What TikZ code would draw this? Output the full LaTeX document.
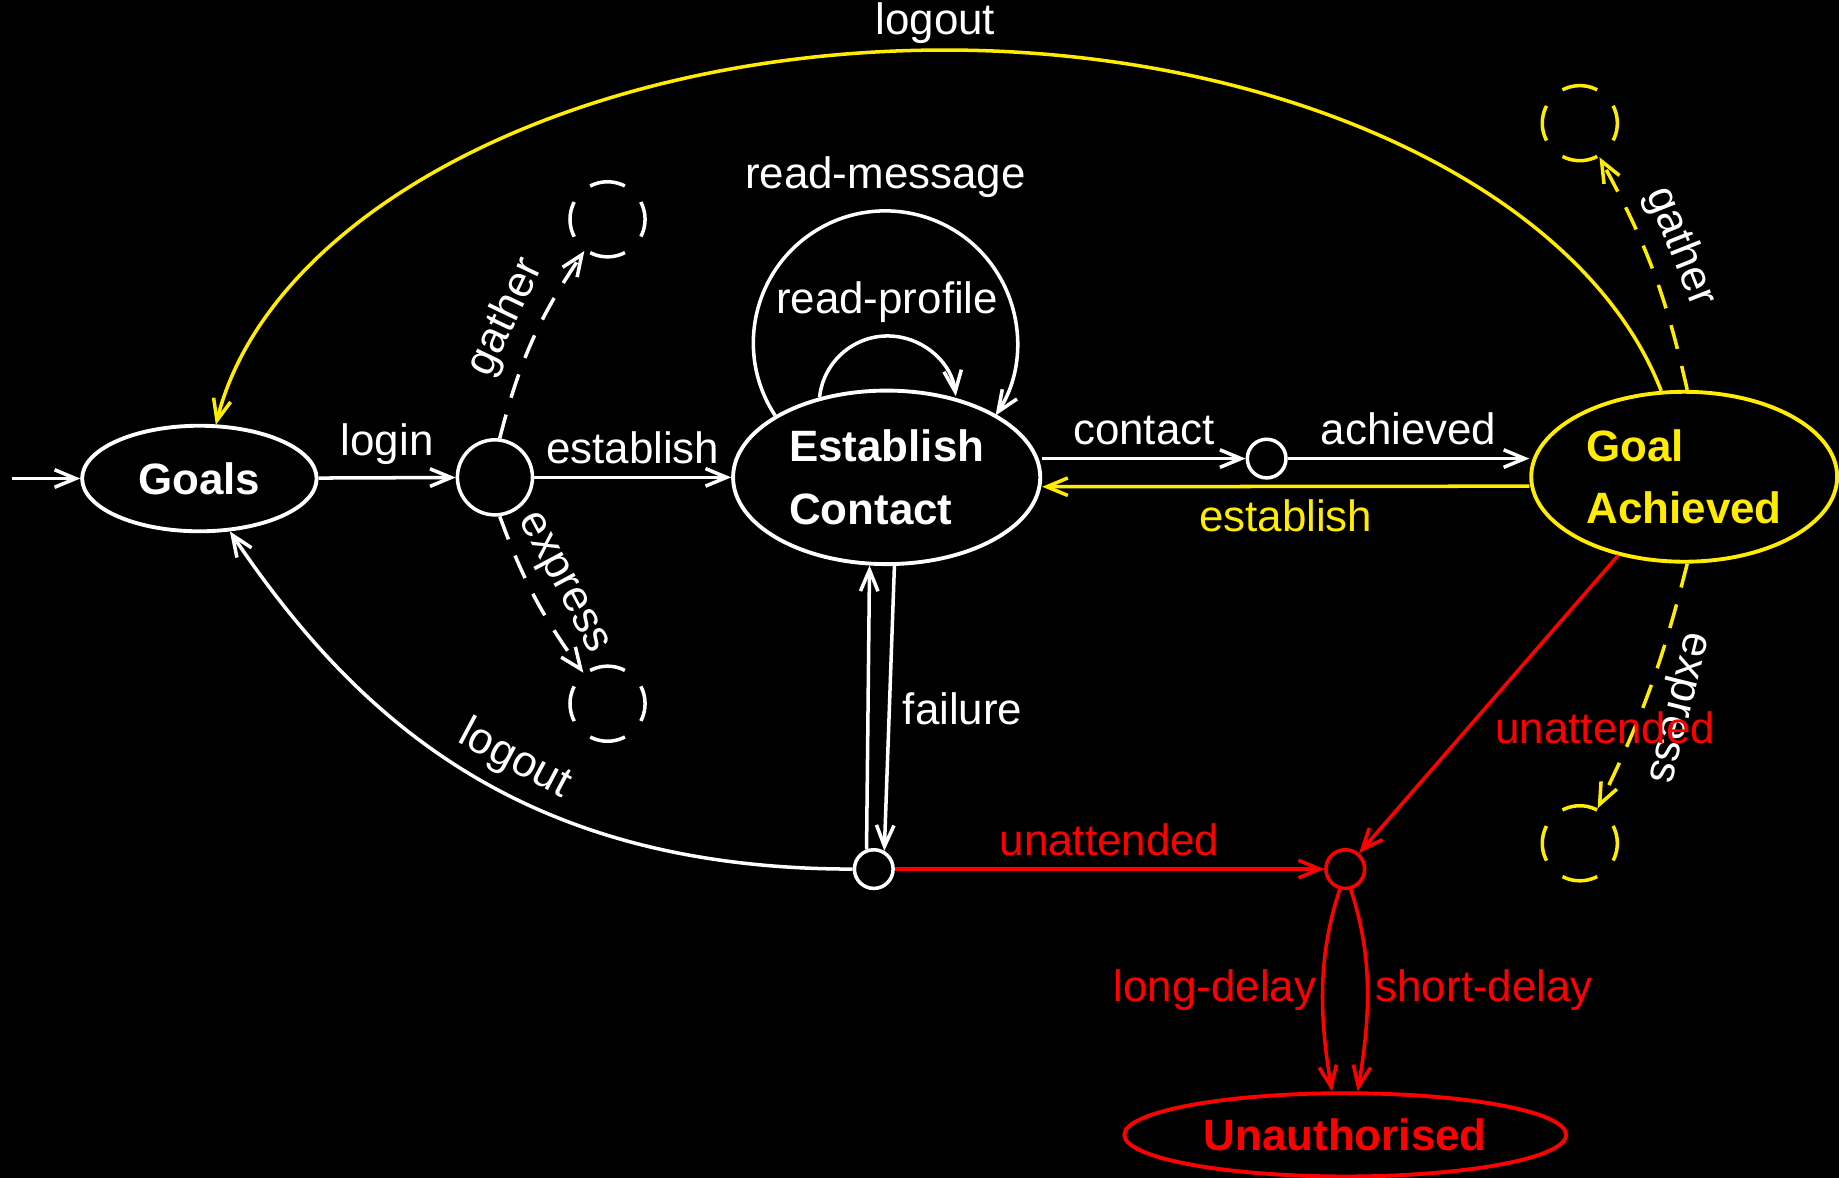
\documentclass[tikz,border=0pt]{standalone}
\usepackage{fontspec}
\setmainfont{Liberation Sans}
\usetikzlibrary{arrows.meta,shapes.geometric}
\definecolor{ylw}{RGB}{255,236,0}
\definecolor{rd}{RGB}{255,0,0}
\begin{document}
\begin{tikzpicture}[x=0.011728cm, y=0.011728cm, color=white, line width=1pt,
  font=\fontsize{12.5}{15}\selectfont,
  >={Straight Barb[length=6pt,width=5pt]},
  state/.style={ellipse, draw, line width=1.1pt, inner sep=0pt, align=left,
    font=\fontsize{12.5}{17.7}\selectfont\bfseries},
  choice/.style={circle, draw, inner sep=0pt},
  ghost/.style={circle, draw, inner sep=0pt, minimum size=0.751cm,
    dash pattern=on 0.3605cm off 0.2294cm, dash phase=0.18cm},
  trans/.style={->},
  dsh/.style={->, dash pattern=on 7pt off 5pt},
]
\fill[black] (0,0) rectangle (1568,1004);
\useasboundingbox (0,0) rectangle (1568,1004);

% states
\node[state, minimum width=2.346cm, minimum height=1.056cm] (G) at (170,596) {Goals};
\node[state, minimum width=3.073cm, minimum height=1.736cm] (E) at (756,597) {Establish\\Contact};
\node[state, ylw, minimum width=3.061cm, minimum height=1.70cm] (GA) at (1436,597.5) {Goal\\Achieved};
\node[state, rd, minimum width=4.42cm, minimum height=0.833cm] (U) at (1147,36.4) {Unauthorised};

% choice points
\node[choice, minimum size=0.751cm] (C1) at (422,597) {};
\node[choice, minimum size=0.387cm] (K) at (1080,613) {};
\node[choice, minimum size=0.387cm] (B) at (745,263) {};
\node[choice, rd, minimum size=0.387cm] (R) at (1147,263) {};

% open ends
\node[ghost] (DT) at (518,817) {};
\node[ghost] (DB) at (518,404) {};
\node[ghost, ylw] (YT) at (1347,899) {};
\node[ghost, ylw] (YB) at (1347,285) {};

\coordinate (in) at (10,596);

% white transitions
\draw[trans] (in) -- (G);
\draw[trans] (G) -- (C1) node[midway, above] {login};
\draw[trans] (C1) -- (E) node[midway, above] {establish};
\draw[dsh] (C1.83) to[bend left=10] node[pos=0.55, sloped, above] {gather} (DT);
\draw[dsh] (C1.-83) to[bend right=8] node[pos=0.5, sloped, above] {express} (DB);
\draw[trans] (E.151) arc[start angle=213.4, end angle=-33.4, radius=1.3206cm]
  node[midway, above] {read-message};
\draw[trans] (E.130) arc[start angle=174, end angle=7, radius=0.686cm]
  node[midway, above] {read-profile};
\draw[trans] (E.east |- K) -- (K) node[midway, above] {contact};
\draw[trans] (K) -- (GA.west |- K) node[midway, above] {achieved};
\draw[trans] (B.110) -- (E.-101.5);
\draw[trans] (E.-85.4) -- (B.60) node[midway, right] {failure};
\draw[trans] (B.west) .. controls (450,263) and (306.8,386.2) .. (G.-60)
  node[pos=0.45, sloped, above] {logout};

% yellow transitions
\draw[trans, ylw] ([yshift=-0.094cm]GA.west) -- ([yshift=-0.094cm]E.east)
  node[midway, below] {establish};
\draw[trans, ylw] (GA.105) arc[start angle=13, end angle=171.5,
    x radius=7.365cm, y radius=4.398cm]
  node[pos=0.49, above=-2pt, text=white] {logout};
\draw[dsh, ylw] (GA.88) to[bend right=8] node[pos=0.55, sloped, above, text=white] {gather} (YT);
\draw[dsh, ylw] (GA.-88) to[bend left=6] node[pos=0.55, rotate=-104, anchor=south, text=white] {express} (YB);

% red transitions
\draw[trans, rd] (B) -- (R) node[midway, above] {unattended};
\draw[trans, rd] (GA.-130) -- (R) node[pos=0.58, right=4pt] {unattended};
\draw[trans, rd] (R.-105) .. controls +(-20,-60) and +(-10,60) .. (U.107)
  node[midway, left=-2pt] {long-delay};
\draw[trans, rd] (R.-75) .. controls +(20,-60) and +(10,60) .. (U.74)
  node[midway, right=-1.5pt] {short-delay};
\end{tikzpicture}
\end{document}
